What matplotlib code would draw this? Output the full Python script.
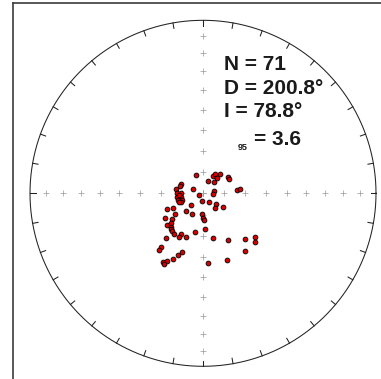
import numpy as np
import matplotlib
matplotlib.use("Agg")
import matplotlib.pyplot as plt
from matplotlib.lines import Line2D

# Site-mean statistics shown in the annotation
n_sites = 71
mean_dec = 200.8
mean_inc = 78.8
a95 = 3.6

# Declination / inclination (degrees) of the individual directions
dec = [339, 29, 32, 42, 43, 44, 20, 56, 61, 293, 288, 279, 296, 79, 94, 250, 85, 83,
       270, 272, 261, 263, 256, 253, 249, 249, 188, 148, 130, 139, 125, 227, 245, 246,
       223, 209, 183, 179, 178, 234, 237, 230, 229, 227, 224, 222, 220, 215, 209, 209,
       201, 192, 177, 220, 167, 152, 137, 130, 133, 144, 218, 218, 200, 202, 205, 208,
       210, 209, 176, 160, 265]
inc = [80.7, 80.6, 79.5, 78.0, 80.4, 82.6, 83.7, 76.0, 76.3, 78.8, 78.7, 77.2, 85.0,
       84.6, 85.5, 88.2, 73.8, 72.5, 78.0, 79.5, 79.4, 77.5, 77.9, 79.5, 79.0, 78.1,
       86.5, 85.0, 81.9, 81.1, 78.8, 82.1, 74.2, 71.5, 78.5, 78.9, 80.1, 78.3, 77.3,
       73.6, 68.4, 71.1, 67.4, 69.5, 68.0, 67.5, 66.9, 66.3, 68.3, 66.3, 67.7, 71.3,
       73.2, 62.5, 68.5, 65.0, 60.7, 57.8, 56.3, 56.2, 57.5, 55.7, 60.6, 58.5, 55.7,
       53.2, 52.2, 51.3, 57.0, 56.5, 78.5]

# Graticule: inclination rings marked by crosses, azimuth ticks on the primitive
cross_incs = [90, 80, 70, 60, 50, 40, 30, 20, 10]
tick_azimuths = np.arange(0, 360, 10)


def equal_area(d, i):
    """Schmidt (equal-area) projection, north up, unit primitive circle."""
    d = np.radians(np.asarray(d, float))
    r = np.sqrt(2.0) * np.sin(np.radians(90.0 - np.asarray(i, float)) / 2.0)
    return r * np.sin(d), r * np.cos(d)


W, H, DPI = 381, 379, 100
cx_px, cy_px, R_px = 203.0, 193.3, 173.0

fig = plt.figure(figsize=(W / DPI, H / DPI), dpi=DPI)
fig.patch.set_facecolor("white")
ax = fig.add_axes([0, 0, 1, 1])
ax.set_xlim(-cx_px / R_px, (W - cx_px) / R_px)
ax.set_ylim((cy_px - H) / R_px, cy_px / R_px)
ax.set_aspect("equal")
ax.axis("off")

# Primitive circle
t = np.linspace(0, 2 * np.pi, 721)
ax.plot(np.cos(t), np.sin(t), color="#222222", lw=0.75, zorder=2)

# Azimuth ticks every 10 degrees, pointing inward
tick_len = 5.5 / R_px
for az in tick_azimuths:
    a = np.radians(az)
    ax.plot([np.sin(a), (1 - tick_len) * np.sin(a)],
            [np.cos(a), (1 - tick_len) * np.cos(a)],
            color="#222222", lw=0.75, zorder=2)

# Crosses along the N-S and E-W axes
for az in (0, 90, 180, 270):
    x, y = equal_area([az] * len(cross_incs), cross_incs)
    ax.plot(x, y, ls="none", marker="+", ms=3.8, mew=0.55, color="#a0a0a0", zorder=1)

# Directions (lower hemisphere)
x, y = equal_area(dec, inc)
ax.scatter(x, y, s=12, facecolor="#d40000", edgecolor="black", linewidths=0.6, zorder=3)

# Outer frame (left and top edges)
frame_kw = dict(color="#3c3c3c", lw=1.2, transform=fig.transFigure, figure=fig)
fig.lines.append(Line2D([12.5 / W, 12.5 / W], [0, 1 - 2.5 / H], **frame_kw))
fig.lines.append(Line2D([12.5 / W, 1], [1 - 2.5 / H, 1 - 2.5 / H], **frame_kw))

# Statistics annotation
font = dict(family=["Liberation Sans", "DejaVu Sans"], weight="bold", color="#1a1a1a")


def px_text(xp, yp, s, size, **kw):
    fig.text(xp / W, 1 - yp / H, s, fontsize=size, va="baseline", ha="left", **font, **kw)


px_text(224.5, 69.5, f"N = {n_sites}", 15)
px_text(224.5, 93.5, f"D = {mean_dec:.1f}°", 15)
px_text(224.5, 117, f"I = {mean_inc:.1f}°", 15)
px_text(238, 150.5, "95", 6.5)
px_text(253.5, 145.5, f"= {a95:.1f}", 15)

fig.savefig("out.png", dpi=DPI, facecolor="white")
